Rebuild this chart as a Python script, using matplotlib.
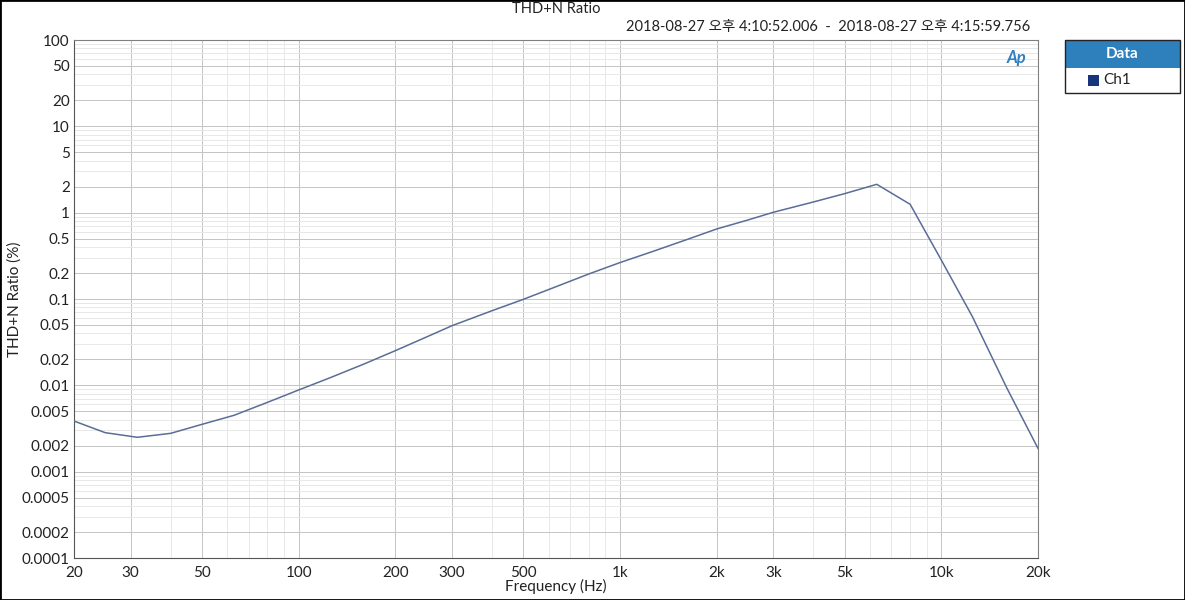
import matplotlib
matplotlib.use('Agg')
import matplotlib.pyplot as plt
from matplotlib.patches import Rectangle
from matplotlib.ticker import FixedLocator, NullFormatter

plt.rcParams['font.family'] = ['Lato', 'Noto Sans CJK KR', 'DejaVu Sans']

freq_hz = [20, 25, 31.5, 40, 50, 63, 80, 100, 125, 160, 200, 250, 300, 400,
           500, 630, 800, 1000, 1250, 1600, 2000, 2500, 3000, 4000, 5000,
           6300, 8000, 10000, 12500, 16000, 20000]
thdn_pct = [0.00386, 0.00283, 0.0025, 0.00278, 0.00353, 0.0045, 0.00635,
            0.00883, 0.0122, 0.0177, 0.0252, 0.0363, 0.049, 0.0732, 0.099,
            0.138, 0.195, 0.264, 0.35, 0.482, 0.647, 0.822, 1.01, 1.33,
            1.66, 2.13, 1.25, 0.283, 0.0624, 0.0093, 0.00186]

x_ticks = [20, 30, 50, 100, 200, 300, 500, 1000, 2000, 3000, 5000, 10000, 20000]
x_labels = ['20', '30', '50', '100', '200', '300', '500', '1k', '2k', '3k',
            '5k', '10k', '20k']
y_ticks = [0.0001, 0.0002, 0.0005, 0.001, 0.002, 0.005, 0.01, 0.02, 0.05,
           0.1, 0.2, 0.5, 1, 2, 5, 10, 20, 50, 100]
y_labels = ['0.0001', '0.0002', '0.0005', '0.001', '0.002', '0.005', '0.01',
            '0.02', '0.05', '0.1', '0.2', '0.5', '1', '2', '5', '10', '20',
            '50', '100']

W, H = 1185, 600
fig = plt.figure(figsize=(W / 100, H / 100), dpi=100)
ax = fig.add_axes([74 / W, 1 - 558 / H, (1038 - 74) / W, (558 - 40) / H])

ax.plot(freq_hz, thdn_pct, color='#5b6d96', lw=1.1, zorder=3)
ax.set_xscale('log')
ax.set_yscale('log')
ax.set_xlim(20, 20000)
ax.set_ylim(0.0001, 100)

ax.xaxis.set_major_locator(FixedLocator(x_ticks))
ax.set_xticklabels(x_labels)
ax.yaxis.set_major_locator(FixedLocator(y_ticks))
ax.set_yticklabels(y_labels)

# minor grid at every remaining 1..9 step of each decade
x_minor = [m * 10 ** d for d in range(1, 5) for m in range(1, 10)]
x_minor = [v for v in x_minor if 20 <= v <= 20000 and v not in x_ticks]
y_minor = [m * 10.0 ** d for d in range(-4, 2) for m in range(1, 10)]
y_minor = [v for v in y_minor
           if all(abs(v - t) > 1e-9 * t for t in y_ticks)]
ax.xaxis.set_minor_locator(FixedLocator(x_minor))
ax.yaxis.set_minor_locator(FixedLocator(y_minor))
ax.xaxis.set_minor_formatter(NullFormatter())
ax.yaxis.set_minor_formatter(NullFormatter())

ax.grid(which='major', color='#c4c4c4', lw=0.7)
ax.grid(which='minor', color='#e8e8e8', lw=0.7)
ax.tick_params(which='both', length=0, labelsize=11, colors='#222222')
ax.tick_params(axis='x', pad=6)
ax.tick_params(axis='y', pad=3)

for side in ['left', 'bottom']:
    ax.spines[side].set_color('#555555')
for side in ['top', 'right']:
    ax.spines[side].set_color('#808080')

fig.text(556 / W, 1 - 586 / H, 'Frequency (Hz)', ha='center', va='center',
         fontsize=11, color='#222222')
fig.text(15 / W, 1 - 299 / H, 'THD+N Ratio (%)', ha='center', va='center',
         rotation=90, fontsize=11, color='#222222')

fig.text(556 / W, 1 - 9 / H, 'THD+N Ratio', ha='center', va='center',
         fontsize=10.5, color='#222222')
fig.text(1030 / W, 1 - 27 / H,
         '2018-08-27 오후 4:10:52.006  -  2018-08-27 오후 4:15:59.756',
         ha='right', va='center', fontsize=10.5, color='#222222')

# AP logo mark
ax.text(0.988, 0.965, 'Ap', transform=ax.transAxes, ha='right', va='center',
        fontsize=12, fontweight='bold', style='italic', color='#2f7fc1')

# legend panel
lx, ly, lw_, lh = 1065, 40, 115, 53
fig.patches.append(Rectangle((lx / W, 1 - (ly + 28) / H), lw_ / W, 28 / H,
                             transform=fig.transFigure, facecolor='#2e80bd',
                             edgecolor='none'))
fig.patches.append(Rectangle((lx / W, 1 - (ly + lh) / H), lw_ / W, lh / H,
                             transform=fig.transFigure, facecolor='none',
                             edgecolor='#222222', lw=1))
fig.text((lx + lw_ / 2) / W, 1 - (ly + 14) / H, 'Data', ha='center',
         va='center', fontsize=11, fontweight='bold', color='white')
fig.patches.append(Rectangle((1088 / W, 1 - 86 / H), 11 / W, 11 / H,
                             transform=fig.transFigure, facecolor='#16357a',
                             edgecolor='none'))
fig.text(1103 / W, 1 - 80 / H, 'Ch1', ha='left', va='center', fontsize=11,
         color='#222222')

# outer frame
fig.patches.append(Rectangle((0, 0), 1, 1, transform=fig.transFigure,
                             facecolor='none', edgecolor='black', lw=2))

fig.savefig('out.png', dpi=100)
